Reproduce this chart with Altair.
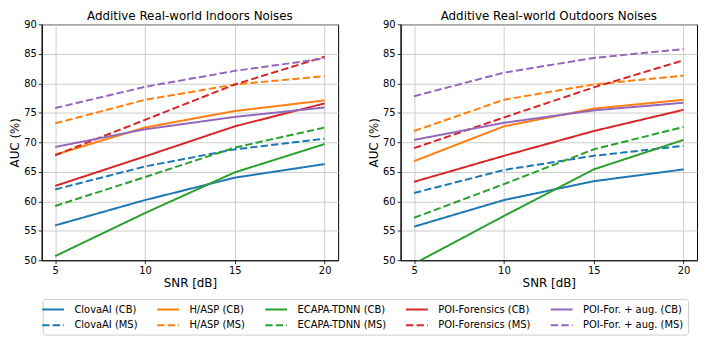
import altair as alt
import pandas as pd

snr = [5, 10, 15, 20]
models = ["ClovaAI", "H/ASP", "ECAPA-TDNN", "POI-Forensics", "POI-For. + aug."]
model_colors = ["#1f77b4", "#ff7f0e", "#2ca02c", "#d62728", "#9467bd"]
panel_titles = ["Additive Real-world Indoors Noises", "Additive Real-world Outdoors Noises"]

# Indoors (CB = solid, MS = dashed)
in_clovaai_cb = [55.9, 60.2, 64.0, 66.3]
in_clovaai_ms = [62.0, 65.9, 68.8, 70.6]
in_hasp_cb = [67.9, 72.5, 75.3, 77.1]
in_hasp_ms = [73.2, 77.2, 79.8, 81.2]
in_ecapa_cb = [50.7, 58.0, 64.9, 69.7]
in_ecapa_ms = [59.2, 64.1, 69.1, 72.5]
in_poi_cb = [62.6, 67.6, 72.7, 76.6]
in_poi_ms = [67.8, 73.8, 79.8, 84.5]
in_poiaug_cb = [69.2, 72.2, 74.3, 75.9]
in_poiaug_ms = [75.8, 79.4, 82.1, 84.2]

# Outdoors
out_clovaai_cb = [55.7, 60.2, 63.4, 65.4]
out_clovaai_ms = [61.4, 65.3, 67.7, 69.4]
out_hasp_cb = [66.8, 72.7, 75.7, 77.2]
out_hasp_ms = [71.9, 77.2, 79.8, 81.3]
out_ecapa_cb = [49.4, 57.5, 65.4, 70.4]
out_ecapa_ms = [57.2, 62.9, 68.8, 72.6]
out_poi_cb = [63.3, 67.7, 71.9, 75.5]
out_poi_ms = [69.0, 74.2, 79.3, 83.9]
out_poiaug_cb = [70.4, 73.3, 75.4, 76.7]
out_poiaug_ms = [77.8, 81.8, 84.3, 85.8]

indoors = {
    ("ClovaAI", "CB"): in_clovaai_cb, ("ClovaAI", "MS"): in_clovaai_ms,
    ("H/ASP", "CB"): in_hasp_cb, ("H/ASP", "MS"): in_hasp_ms,
    ("ECAPA-TDNN", "CB"): in_ecapa_cb, ("ECAPA-TDNN", "MS"): in_ecapa_ms,
    ("POI-Forensics", "CB"): in_poi_cb, ("POI-Forensics", "MS"): in_poi_ms,
    ("POI-For. + aug.", "CB"): in_poiaug_cb, ("POI-For. + aug.", "MS"): in_poiaug_ms,
}
outdoors = {
    ("ClovaAI", "CB"): out_clovaai_cb, ("ClovaAI", "MS"): out_clovaai_ms,
    ("H/ASP", "CB"): out_hasp_cb, ("H/ASP", "MS"): out_hasp_ms,
    ("ECAPA-TDNN", "CB"): out_ecapa_cb, ("ECAPA-TDNN", "MS"): out_ecapa_ms,
    ("POI-Forensics", "CB"): out_poi_cb, ("POI-Forensics", "MS"): out_poi_ms,
    ("POI-For. + aug.", "CB"): out_poiaug_cb, ("POI-For. + aug.", "MS"): out_poiaug_ms,
}

# legend fills column by column (2 rows): CB above MS for each model
order = []
color_range = []
dash_range = []
for m, c in zip(models, model_colors):
    order += [f"{m} (CB)", f"{m} (MS)"]
    color_range += [c, c]
    dash_range += [[1, 0], [7.4, 3.2]]


def make_df(table):
    rows = []
    for m in models:
        for cond in ["CB", "MS"]:
            for s, v in zip(snr, table[(m, cond)]):
                rows.append({"snr": s, "auc": v, "series": f"{m} ({cond})"})
    return pd.DataFrame(rows)


legend = alt.Legend(
    title=None, orient="none", legendX=1, legendY=277, columns=5,
    symbolType="M-2,0H2", symbolSize=121, symbolStrokeWidth=2,
    labelFontSize=10, labelOffset=15, columnPadding=15, rowPadding=4,
    padding=4, strokeColor="#cccccc", cornerRadius=3, fillColor="white",
    labelFont="DejaVu Sans", labelColor="black",
)


def panel(table, title):
    df = make_df(table)
    return alt.Chart(df).mark_line(strokeWidth=2, clip=True).encode(
        x=alt.X("snr:Q", scale=alt.Scale(domain=[4.25, 20.75], nice=False, zero=False),
                axis=alt.Axis(values=[5, 10, 15, 20], title="SNR [dB]")),
        y=alt.Y("auc:Q", scale=alt.Scale(domain=[50, 90], nice=False, zero=False),
                axis=alt.Axis(values=list(range(50, 91, 5)), title="AUC (%)")),
        color=alt.Color("series:N", scale=alt.Scale(domain=order, range=color_range), legend=legend),
        strokeDash=alt.StrokeDash("series:N", scale=alt.Scale(domain=order, range=dash_range), legend=legend),
    ).properties(
        width=299, height=238,
        title=alt.Title(title, fontSize=12, fontWeight="normal", offset=-4, frame="group",
                        font="DejaVu Sans", color="black"),
    )


chart = alt.hconcat(panel(indoors, panel_titles[0]), panel(outdoors, panel_titles[1]), spacing=28).properties(
    padding=0
).configure(font="DejaVu Sans").configure_view(
    stroke="black", strokeWidth=1
).configure_axis(
    domainColor="black", domainWidth=1, tickColor="black", tickSize=3.5, tickWidth=0.8,
    labelFontSize=10, labelColor="black", labelPadding=2, titleFontSize=12, titleFontWeight="normal",
    titleColor="black", titlePadding=2, grid=True, gridColor="#cccccc", gridWidth=1,
    labelFont="DejaVu Sans", titleFont="DejaVu Sans",
)

chart.save("out.html", embed_options={"renderer": "svg", "actions": False})
